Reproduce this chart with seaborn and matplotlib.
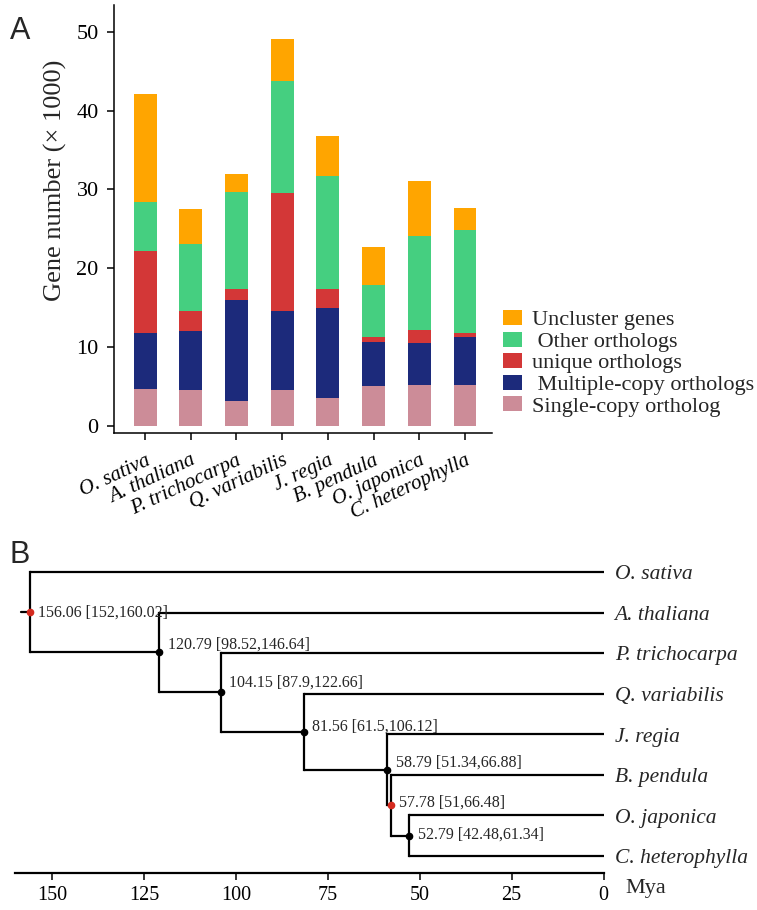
import numpy as np
import pandas as pd
import matplotlib
matplotlib.use("Agg")
import matplotlib.pyplot as plt
from matplotlib.patches import Patch
import seaborn as sns

# ---------------- data ----------------
species = ["O. sativa", "A. thaliana", "P. trichocarpa", "Q. variabilis",
           "J. regia", "B. pendula", "O. japonica", "C. heterophylla"]
single_copy = [4.65, 4.5, 3.1, 4.5, 3.55, 5.0, 5.1, 5.1]
multi_copy = [7.15, 7.5, 12.9, 10.1, 11.45, 5.6, 5.4, 6.1]
unique_orth = [10.4, 2.6, 1.3, 14.9, 2.4, 0.65, 1.7, 0.6]
other_orth = [6.2, 8.5, 12.4, 14.3, 14.3, 6.65, 11.9, 13.1]
uncluster = [13.7, 4.4, 2.2, 5.3, 5.1, 4.8, 7.0, 2.7]
layer_names = ["Single-copy ortholog", " Multiple-copy orthologs", "unique orthologs",
               " Other orthologs", "Uncluster genes"]
layer_colors = ["#CC8C98", "#1C2A7B", "#D33737", "#45CF80", "#FFA500"]
y_ticks = [0, 10, 20, 30, 40, 50]

# tree: internal nodes (age, CI low, CI high) and children
node_ages = [156.06, 120.79, 104.15, 81.56, 58.79, 57.78, 52.79]
node_lo = [152, 98.52, 87.9, 61.5, 51.34, 51, 42.48]
node_hi = [160.02, 146.64, 122.66, 106.12, 66.88, 66.48, 61.34]
node_children = [["O. sativa", 1], ["A. thaliana", 2], ["P. trichocarpa", 3],
                 ["Q. variabilis", 4], ["J. regia", 5], ["B. pendula", 6],
                 ["O. japonica", "C. heterophylla"]]
node_dot_colors = ["#D42A1E", "black", "black", "black", "black", "#D42A1E", "black"]
mya_ticks = [150, 125, 100, 75, 50, 25, 0]

# ---------------- style ----------------
sns.set_style("ticks")
plt.rcParams["font.family"] = ["Liberation Serif", "DejaVu Serif"]
plt.rcParams["axes.linewidth"] = 1.1
plt.rcParams["xtick.major.width"] = 1.1
plt.rcParams["ytick.major.width"] = 1.1
plt.rcParams["xtick.major.size"] = 5
plt.rcParams["ytick.major.size"] = 5
plt.rcParams["xtick.color"] = "black"
plt.rcParams["ytick.color"] = "black"
plt.rcParams["axes.edgecolor"] = "black"

W, H = 757, 910
fig = plt.figure(figsize=(W / 100, H / 100), dpi=100)

# ---------------- panel A ----------------
axA = fig.add_axes([114 / W, 1 - 433 / H, 378 / W, 428 / H])
df = pd.DataFrame({"species": species, "s": single_copy, "m": multi_copy,
                   "u": unique_orth, "o": other_orth, "c": uncluster})
cols = ["s", "m", "u", "o", "c"]
cum = df[cols].cumsum(axis=1)
for col, colr in reversed(list(zip(cols, layer_colors))):
    sns.barplot(x=df["species"], y=cum[col], color=colr, width=0.5,
                saturation=1, linewidth=0, order=species, ax=axA)
axA.set_xlim(-0.68, 7.59)
axA.set_ylim(-0.93, 53.4)
axA.set_yticks(y_ticks)
axA.tick_params(axis="y", labelsize=16, pad=6)
axA.set_xticklabels(species, rotation=25, ha="right", rotation_mode="anchor",
                    fontsize=15, style="italic")
axA.tick_params(axis="x", pad=8)
axA.set_xlabel("")
axA.set_ylabel("Gene number (× 1000)", fontsize=19)
axA.yaxis.set_label_coords(-0.125, 0.59)
sns.despine(ax=axA)

handles = [Patch(facecolor=c, edgecolor="none") for c in reversed(layer_colors)]
fig.legend(handles, list(reversed(layer_names)), loc="upper left",
           bbox_to_anchor=(503 / W, 1 - 310 / H), frameon=False, fontsize=16,
           handlelength=0.85, handleheight=0.68, handletextpad=0.45,
           labelspacing=0.05, borderpad=0, borderaxespad=0)

fig.text(10 / W, 1 - 39 / H, "A", fontsize=22, family="Liberation Sans", va="baseline")
fig.text(10 / W, 1 - 563 / H, "B", fontsize=22, family="Liberation Sans", va="baseline")

# ---------------- panel B ----------------
axB = fig.add_axes([14.6 / W, 1 - 873 / H, (603.5 - 14.6) / W, (873 - 559.8) / H])
axB.set_xlim(160.2, 0)
axB.set_ylim(7.42, -0.3)
tip_y = {s: i for i, s in enumerate(species)}
lw = 1.6
label_dy = [0, 6, 7, 3.5, 5, 2, 1]


def draw(idx):
    age = node_ages[idx]
    ys = []
    for ch in node_children[idx]:
        if isinstance(ch, str):
            cy, cage = tip_y[ch], 0.0
        else:
            cy, cage = draw(ch), node_ages[ch]
        axB.plot([age, cage], [cy, cy], color="black", lw=lw, solid_capstyle="butt")
        ys.append(cy)
    axB.plot([age, age], [min(ys), max(ys)], color="black", lw=lw, solid_capstyle="projecting")
    y = (min(ys) + max(ys)) / 2
    axB.plot([age], [y], "o", color=node_dot_colors[idx], ms=4.5, zorder=5)
    axB.annotate(f"{age:g} [{node_lo[idx]:g},{node_hi[idx]:g}]", xy=(age, y),
                 xytext=(6, label_dy[idx]), textcoords="offset points",
                 ha="left", va="center", fontsize=11.5)
    return y


root_y = draw(0)
axB.plot([node_ages[0] + 2.3, node_ages[0]], [root_y, root_y], color="black", lw=lw)

for s in species:
    axB.annotate(s, xy=(0, tip_y[s]), xytext=(8, -2), textcoords="offset points",
                 ha="left", va="center", fontsize=15.5, style="italic",
                 annotation_clip=False)

axB.set_xticks(mya_ticks)
axB.tick_params(axis="x", labelsize=14.5, pad=4, length=5)
axB.set_yticks([])
for sp in ["left", "right", "top"]:
    axB.spines[sp].set_visible(False)
axB.spines["bottom"].set_linewidth(1.6)
axB.annotate("Mya", xy=(0, 7.42), xytext=(16, -11), textcoords="offset points",
             ha="left", va="center", fontsize=16, annotation_clip=False)

fig.savefig("out.png", dpi=100)
